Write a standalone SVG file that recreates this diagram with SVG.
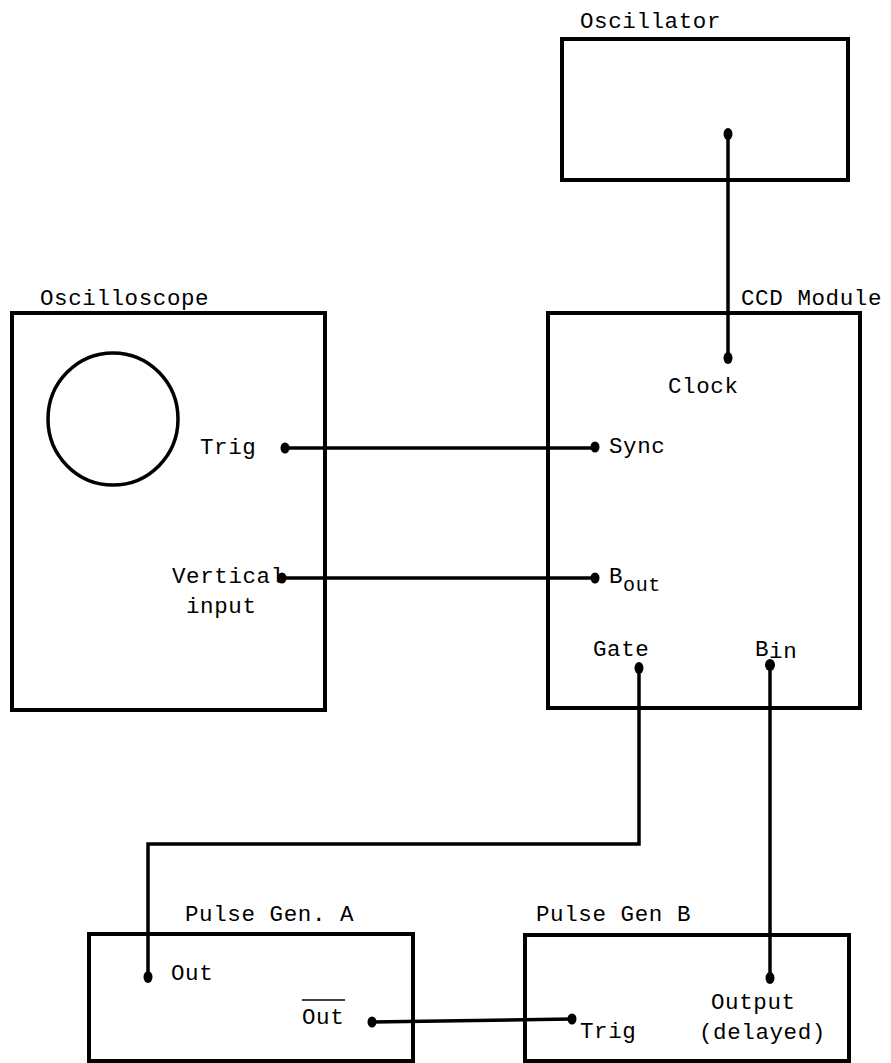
<svg xmlns="http://www.w3.org/2000/svg" width="891" height="1063" viewBox="0 0 891 1063">
<style>
.box{fill:none;stroke:#000;stroke-width:4}
.wire{fill:none;stroke:#000;stroke-width:3.5}
.dot{fill:#000}
text{font-family:"Liberation Mono","Courier New",monospace;font-size:22.5px;letter-spacing:0.6px;fill:#000}
.sub{font-size:20px}
</style>
<rect width="891" height="1063" fill="#fff"/>
<g id="connectors">
<polyline class="wire" points="728,135 728,358"/>
<polyline class="wire" points="285,448 595,448"/>
<polyline class="wire" points="282,578 595,578"/>
<polyline class="wire" points="639,668 639,844 148,844 148,977"/>
<polyline class="wire" points="770,665 770,978"/>
<polyline class="wire" points="372,1022 572,1019"/>
</g>
<g id="oscillator">
<rect class="box" x="562" y="39" width="286" height="141"/>
<text x="580" y="28">Oscillator</text>
<ellipse class="dot" cx="728" cy="134" rx="4.5" ry="6"/>
</g>
<g id="ccd-module">
<rect class="box" x="548" y="313" width="312" height="395"/>
<text x="741" y="305">CCD Module</text>
<ellipse class="dot" cx="728" cy="358" rx="4.5" ry="6"/>
<text x="668" y="393">Clock</text>
<ellipse class="dot" cx="595" cy="447" rx="4.5" ry="5.5"/>
<text x="609" y="453">Sync</text>
<ellipse class="dot" cx="595" cy="578" rx="4.5" ry="5.5"/>
<text x="609" y="583">B<tspan class="sub" dy="8">out</tspan></text>
<text x="593" y="656">Gate</text>
<ellipse class="dot" cx="639" cy="668" rx="4.5" ry="6"/>
<text x="755" y="656">B<tspan dy="2">in</tspan></text>
<ellipse class="dot" cx="770" cy="665" rx="5" ry="6"/>
</g>
<g id="oscilloscope">
<rect class="box" x="12" y="313" width="313" height="397"/>
<text x="40" y="305">Oscilloscope</text>
<ellipse cx="113" cy="419" rx="65" ry="66" fill="none" stroke="#000" stroke-width="3.5"/>
<text x="200" y="454">Trig</text>
<ellipse class="dot" cx="285" cy="448" rx="4.5" ry="5.5"/>
<text x="172" y="583">Vertical</text>
<text x="186" y="613">input</text>
<ellipse class="dot" cx="282" cy="578" rx="4.5" ry="5.5"/>
</g>
<g id="pulse-gen-a">
<rect class="box" x="89" y="934" width="324" height="127"/>
<text x="185" y="921">Pulse Gen. A</text>
<ellipse class="dot" cx="148" cy="977" rx="4.5" ry="6"/>
<text x="171" y="980">Out</text>
<text x="302" y="1024">Out</text>
<line x1="302" y1="1000" x2="345" y2="1000" stroke="#000" stroke-width="1.5"/>
<ellipse class="dot" cx="372" cy="1022" rx="4.5" ry="5.5"/>
</g>
<g id="pulse-gen-b">
<rect class="box" x="525" y="935" width="324" height="126"/>
<text x="536" y="921">Pulse Gen B</text>
<ellipse class="dot" cx="572" cy="1019" rx="4.5" ry="5.5"/>
<text x="580" y="1038">Trig</text>
<ellipse class="dot" cx="770" cy="978" rx="4.5" ry="6"/>
<text x="711" y="1009">Output</text>
<text x="699" y="1039">(delayed)</text>
</g>
</svg>
